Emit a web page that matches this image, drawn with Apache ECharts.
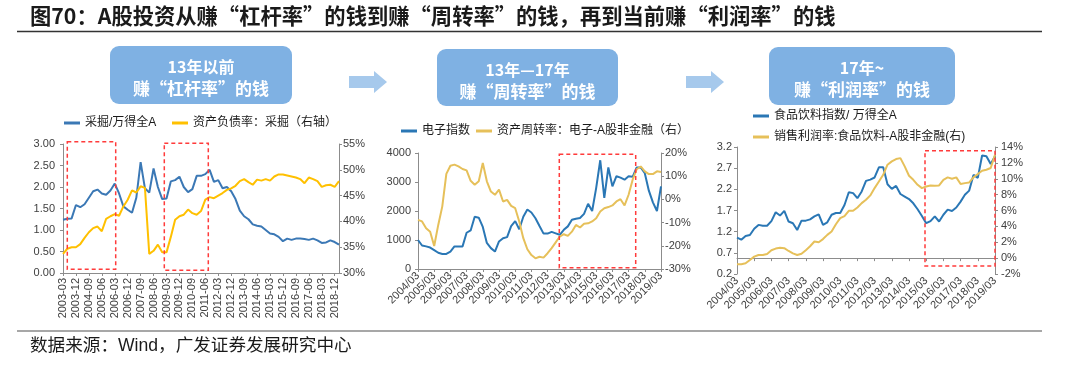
<!DOCTYPE html>
<html><head><meta charset="utf-8">
<script src="https://cdn.jsdelivr.net/npm/echarts@6/dist/echarts.min.js"></script>
<style>html,body{margin:0;padding:0;background:#fff}#c{width:1080px;height:368px}</style>
</head><body><div id="c"></div>
<script>
// ---------- data ----------
function quarters(y0, y1, sep){ var a=[]; for(var y=y0;y<=y1;y++){ ['03','06','09','12'].forEach(function(m){ if(!(y===y1 && m!=='03')) a.push(y+sep+m); }); } return a; }
var cats1 = quarters(2003, 2019, '-');   // 2003-03 .. 2019-03
var cats2 = quarters(2004, 2019, '/');   // 2004/03 .. 2019/03
var cats3 = quarters(2004, 2019, '/');

var miningRel = [1.24,1.26,1.27,1.58,1.53,1.60,1.75,1.90,1.94,1.85, 1.82,1.92,2.08,1.85,1.55,1.47,1.40,1.75,2.58,1.97, 1.87,2.43,2.00,1.72,1.73,2.13,2.16,2.24,2.00,1.88, 1.95,2.26,2.26,2.30,2.40,2.12,2.16,1.97,2.00,1.90, 1.72,1.45,1.32,1.25,1.13,1.10,1.08,1.00,0.92,0.90, 0.84,0.74,0.80,0.77,0.80,0.80,0.79,0.77,0.80,0.76, 0.70,0.71,0.76,0.72,0.66];
var miningDebt = [33.7,34.7,35.0,35.0,35.6,36.8,37.9,38.7,39.0,38.1, 40.5,41.0,41.4,41.1,42.9,44.2,46.0,45.6,46.8,46.5, 33.7,34.3,35.5,34.0,34.0,37.0,40.3,41.0,41.3,42.3, 41.6,41.3,42.0,44.2,44.7,44.5,45.0,45.5,46.1,46.4, 46.9,47.8,48.2,47.6,47.1,48.1,47.9,48.2,47.9,48.7, 49.1,49.1,48.9,48.7,48.5,48.2,47.4,48.5,48.2,47.8, 46.7,47.0,47.1,46.7,47.8];

var elecIndex = [1000,810,780,740,650,560,520,520,600,780, 780,780,1250,1330,1800,1770,1450,900,720,600, 950,1060,1100,1480,1650,1370,1800,2050,1950,1750, 1480,1220,1220,1280,1230,1180,1350,1470,1700,1730, 1760,1900,2250,2000,2800,3750,2450,3500,2850,3200, 3150,3080,3200,3180,3500,3500,3300,2700,2300,2000, 2850];
var elecTurnover = [-8.8,-9.5,-12.4,-13.9,-20.1,-11.0,-3.0,11.0,14.5,15.0, 14.2,13.1,12.5,8.0,6.3,7.8,15.7,7.8,3.4,2.0, 4.2,-0.9,-0.2,-2.8,-3.8,-9.5,-16.7,-21.5,-24.0,-25.4, -24.7,-25.1,-23.2,-21.0,-18.5,-16.0,-15.0,-15.7,-13.9,-11.0, -12.1,-10.5,-10.3,-9.5,-8.1,-5.2,-3.8,-3.3,-2.6,-0.9, 0.1,-2.6,2.0,8.5,13.0,14.2,12.1,10.9,10.9,12.1, 11.8];

var foodRel = [1.06,1.01,1.10,1.12,1.27,1.36,1.34,1.34,1.45,1.66, 1.58,1.69,1.44,1.40,1.24,1.46,1.46,1.49,1.56,1.61, 1.36,1.42,1.60,1.64,1.64,1.83,2.13,2.11,1.99,2.15, 2.40,2.43,2.48,2.72,2.72,2.32,2.21,2.28,2.09,2.03, 1.97,1.87,1.73,1.57,1.40,1.45,1.56,1.44,1.60,1.72, 1.69,1.77,1.91,2.07,2.17,2.54,2.47,3.00,2.98,2.80, 2.98];
var foodMargin = [-0.78,-0.78,-0.65,-0.23,0.19,0.4,0.4,0.53,1.0,1.2, 1.3,1.25,0.9,0.6,0.4,0.55,1.0,1.5,2.1,2.0, 2.4,2.93,3.35,4.27,5.03,5.3,5.96,5.96,6.38,6.93, 7.35,7.9,8.82,9.66,10.5,11.77,12.19,12.48,12.6,11.56, 10.38,9.87,9.24,8.82,9.03,9.16,9.12,9.16,9.87,10.17, 10.0,10.17,9.33,9.45,9.54,10.17,10.59,11.0,11.14,11.35, 13.03];

var ticks3L = [0.2,0.7,1.2,1.7,2.2,2.7,3.2];

var names = {
  s1a:'采掘/万得全A', s1b:'资产负债率：采掘（右轴）',
  s2a:'电子指数', s2b:'资产周转率：电子-A股非金融（右）',
  s3a:'食品饮料指数/ 万得全A', s3b:'销售利润率:食品饮料-A股非金融(右)'
};

// ---------- styles ----------
var LAT = "'Liberation Sans', Arial, 'Noto Sans CJK SC', sans-serif";
var CJK = "'Liberation Sans', 'Noto Sans CJK SC', sans-serif";
var AX = '#8c8c8c', LBL = '#404040';
var BLUE1 = '#3b78b5', YEL1 = '#ffc000', BLUE2 = '#2a77b5', YEL2 = '#e6c05a';

function yAx(grid, min, max, opts){
  var o = {type:'value', gridIndex:grid, min:min, max:max, position:opts.pos,
    axisLine:{show:true, lineStyle:{color:AX}},
    axisTick:{show:true, length:3, lineStyle:{color:AX}},
    splitLine:{show:false},
    axisLabel:{color:LBL, fontSize:11, fontFamily:LAT, margin:opts.margin, formatter:opts.fmt}};
  if(opts.interval!==undefined) o.interval = opts.interval;
  if(opts.custom){ o.axisLabel.customValues = opts.custom; o.axisTick.customValues = opts.custom; }
  return o;
}
function xAx(grid, data, itv, rot, margin){
  return {type:'category', gridIndex:grid, data:data, boundaryGap:false,
    axisLine:{lineStyle:{color:AX}},
    axisTick:{show:true, interval:itv, length:3, lineStyle:{color:AX}},
    axisLabel:{interval:itv, rotate:rot, color:LBL, fontSize:11, fontFamily:LAT, margin:margin},
    splitLine:{show:false}};
}
function ser(name, x, y, data, color){
  return {name:name, type:'line', xAxisIndex:x, yAxisIndex:y, data:data, symbol:'none',
    lineStyle:{color:color, width:2}, itemStyle:{color:color}, z:3};
}
function lg(name, left, top){
  return {data:[name], left:left, top:top, padding:0, icon:'rect', itemWidth:16, itemHeight:3, itemGap:5,
    textStyle:{fontSize:12, color:'#1a1a1a', fontFamily:CJK}};
}
function pct(v){ return v + '%'; }

// ---------- decorations ----------
var BOX = '#7fb1e3', ARR = '#a6c9ec', RED = '#ff3b3b';
function box(x,y,w,h,l1,l2){
  return [
    {type:'rect', shape:{x:x,y:y,width:w,height:h,r:9}, style:{fill:BOX}},
    {type:'text', x:x+w/2, y:y+21, style:{text:l1, font:"bold 16px 'Noto Sans CJK SC'", fill:'#fff', textAlign:'center', textVerticalAlign:'middle'}},
    {type:'text', x:x+w/2, y:y+43, style:{text:l2, font:"bold 17px 'Noto Sans CJK SC'", fill:'#fff', textAlign:'center', textVerticalAlign:'middle'}}
  ];
}
function arrow(x,cy){
  return {type:'polygon', shape:{points:[[x,cy-6],[x+25,cy-6],[x+25,cy-11],[x+38,cy],[x+25,cy+11],[x+25,cy+6],[x,cy+6]]}, style:{fill:ARR}};
}
function dash(x,y,w,h){
  return {type:'rect', z:50, shape:{x:x,y:y,width:w,height:h}, style:{fill:'none', stroke:RED, lineWidth:1.5, lineDash:[4,3]}};
}
var graphics = [].concat(
  [{type:'text', x:30, y:16, style:{text:'图70：A股投资从赚“杠杆率”的钱到赚“周转率”的钱，再到当前赚“利润率”的钱', font:"bold 21.3px 'Noto Sans CJK SC'", fill:'#1a1a1a', textVerticalAlign:'middle'}},
   {type:'line', shape:{x1:17,y1:31.5,x2:1042,y2:31.5}, style:{stroke:'#333', lineWidth:1.5}},
   {type:'line', shape:{x1:17,y1:331,x2:1042,y2:331}, style:{stroke:'#8a8a8a', lineWidth:1.5}},
   {type:'text', x:30, y:346, style:{text:'数据来源：Wind，广发证券发展研究中心', font:"17.6px 'Liberation Sans', 'Noto Sans CJK SC'", fill:'#1a1a1a', textVerticalAlign:'middle'}}],
  box(110,46,182,58,'13年以前','赚“杠杆率”的钱'),
  box(437,49,181,57,'13年—17年','赚“周转率”的钱'),
  box(769,47,186,58,'17年~','赚“利润率”的钱'),
  [arrow(349,82), arrow(686,82)],
  [dash(67.3,141.7,48.4,127.6), dash(164.3,143.3,44,127), dash(559.3,154.3,76.4,113.4), dash(925,150.7,70,115.3)]
);

var option = {
  animation:false,
  backgroundColor:'#fff',
  grid:[
    {left:63, top:144, width:276, height:129},
    {left:418, top:153, width:243, height:116},
    {left:737, top:147, width:258, height:127}
  ],
  legend:[
    lg(names.s1a, 64, 117), lg(names.s1b, 172, 117),
    lg(names.s2a, 401, 125), lg(names.s2b, 476, 125),
    lg(names.s3a, 753, 110), lg(names.s3b, 753, 131)
  ],
  xAxis:[
    xAx(0, cats1, 2, 90, 5),
    xAx(1, cats2, 3, 45, 5),
    xAx(2, cats3, 3, 45, 5)
  ],
  yAxis:[
    yAx(0, 0, 3, {pos:'left', margin:8, interval:0.5, fmt:function(v){return v.toFixed(2);}}),
    yAx(0, 30, 55, {pos:'right', margin:4, interval:5, fmt:pct}),
    yAx(1, 0, 4000, {pos:'left', margin:7, interval:1000, fmt:function(v){return String(v);}}),
    yAx(1, -30, 20, {pos:'right', margin:4, interval:10, fmt:pct}),
    yAx(2, 0.2, 3.2, {pos:'left', margin:5, custom:ticks3L, fmt:function(v){return (+v).toFixed(1);}}),
    yAx(2, -2, 14, {pos:'right', margin:6, interval:2, fmt:pct})
  ],
  series:[
    ser(names.s1a, 0, 0, miningRel, BLUE1),
    ser(names.s1b, 0, 1, miningDebt, YEL1),
    ser(names.s2a, 1, 2, elecIndex, BLUE2),
    ser(names.s2b, 1, 3, elecTurnover, YEL2),
    ser(names.s3a, 2, 4, foodRel, BLUE2),
    ser(names.s3b, 2, 5, foodMargin, YEL2)
  ],
  graphic: graphics
};
var chart = echarts.init(document.getElementById('c'), null, {renderer:'canvas'});
chart.setOption(option);
</script></body></html>
